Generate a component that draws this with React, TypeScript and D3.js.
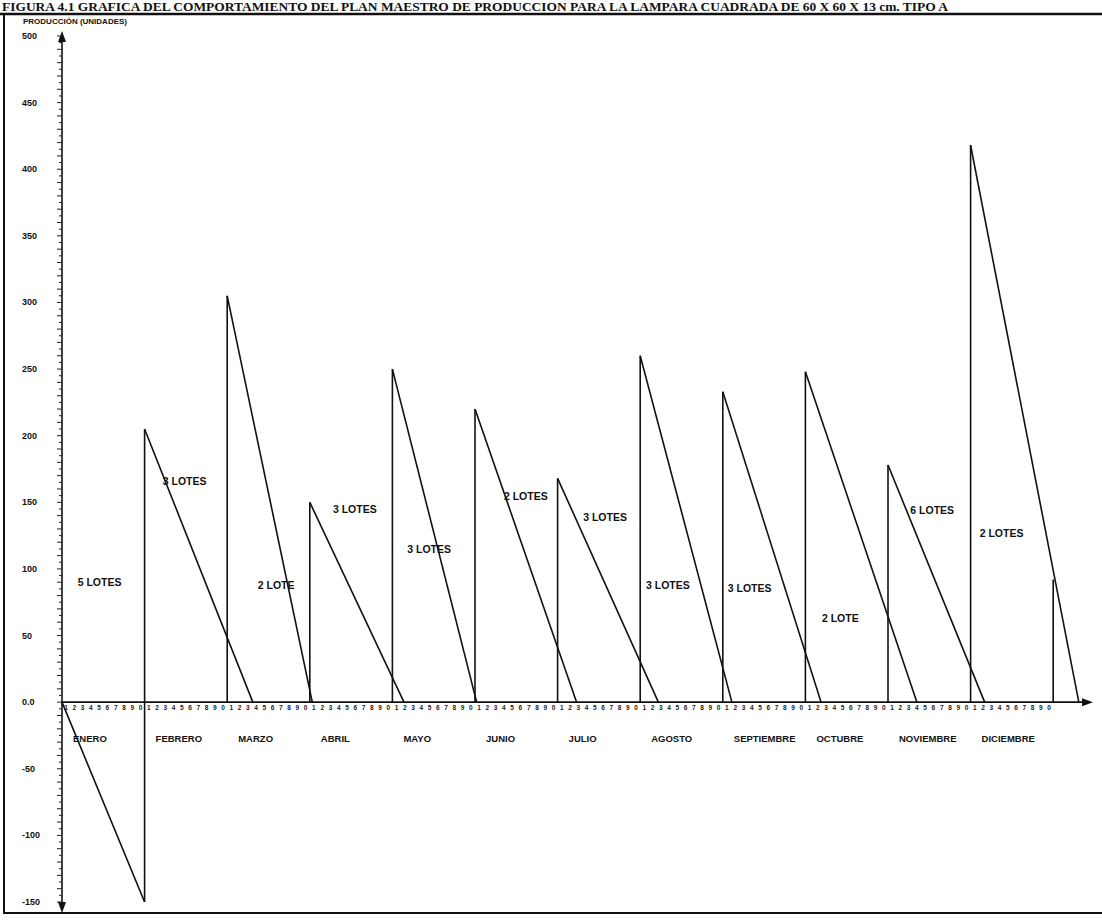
import React from "react";
import * as d3 from "d3";

// ---------- data ----------
const TITLE =
  "FIGURA 4.1  GRAFICA DEL COMPORTAMIENTO DEL PLAN MAESTRO DE PRODUCCION PARA LA LAMPARA CUADRADA DE 60 X 60 X 13 cm.  TIPO A";
const Y_TITLE = "PRODUCCIÓN (UNIDADES)";
const MONTHS = [
  "ENERO", "FEBRERO", "MARZO", "ABRIL", "MAYO", "JUNIO",
  "JULIO", "AGOSTO", "SEPTIEMBRE", "OCTUBRE", "NOVIEMBRE", "DICIEMBRE",
];
const Y_TICKS = [500, 450, 400, 350, 300, 250, 200, 150, 100, 50, 0, -50, -100, -150];
// Enero: stock falls from 0 to this value by the start of Febrero
const ENERO_START = 0;
const ENERO_END = -150;
// level reached at the start of each month 1..12 (Febrero .. next Enero)
const START_LEVEL = [205, 305, 150, 250, 220, 168, 260, 233, 248, 178, 418, 92];
// time (in months) at which each replenishment (Febrero..Diciembre) is used up
const ZERO_AT = [2.31, 3.03, 4.14, 5.02, 6.23, 7.22, 8.11, 9.19, 10.35, 11.17, 12.31];
// lot annotations: text, month position, value
const LOT_TEXT = [
  "5 LOTES", "3 LOTES", "2 LOTE", "3 LOTES", "3 LOTES", "2 LOTES",
  "3 LOTES", "3 LOTES", "3 LOTES", "2 LOTE", "6 LOTES", "2 LOTES",
];
const LOT_AT = [0.19, 1.22, 2.37, 3.28, 4.18, 5.35, 6.31, 7.07, 8.06, 9.2, 10.27, 11.11];
const LOT_VALUE = [90, 166, 88, 145, 115, 155, 139, 88, 86, 63, 144, 127];
const SUB_TICKS = [1, 2, 3, 4, 5, 6, 7, 8, 9, 0];

// ---------- layout ----------
const W = 1102;
const H = 924;
const X0 = 62;
const MONTH_W = 82.6;
const SANS = "'Liberation Sans', Arial, sans-serif";
const SERIF = "'Liberation Serif', 'Times New Roman', serif";

export default function App() {
  const x = d3.scaleLinear().domain([0, 12]).range([X0, X0 + MONTH_W * 12]);
  const y = d3.scaleLinear().domain([-150, 500]).range([902, 36]);
  const y0 = y(0);
  const line = d3.line<[number, number]>().x((d) => x(d[0])).y((d) => y(d[1]));

  const segs: [number, number][][] = [];
  // Enero decline
  segs.push([[0, ENERO_START], [1, ENERO_END]]);
  // Febrero vertical from negative level
  segs.push([[1, ENERO_END], [1, START_LEVEL[0]]]);
  START_LEVEL.forEach((v, i) => {
    const t = i + 1;
    if (i > 0) segs.push([[t, 0], [t, v]]);
    if (i < ZERO_AT.length) segs.push([[t, v], [ZERO_AT[i], 0]]);
  });

  const minor = d3.range(-150, 501, 5);
  const xEnd = 1093;
  const axisTop = 31;
  const axisBot = 913;

  return (
    <svg
      width={W}
      height={H}
      style={{ position: "absolute", left: 0, top: 0, background: "#fff" }}
    >
      <rect x={0} y={0} width={W} height={H} fill="#fff" />
      {/* title */}
      <text
        x={2}
        y={11}
        textLength={946}
        lengthAdjust="spacingAndGlyphs"
        fontFamily={SERIF}
        fontWeight="bold"
        fontSize={13}
        fill="#111"
      >
        {TITLE}
      </text>
      <line x1={0} x2={W} y1={14} y2={14} stroke="#111" strokeWidth={2.5} />
      {/* frame */}
      <line x1={4} x2={4} y1={14} y2={913} stroke="#111" strokeWidth={2} />
      <line x1={3} x2={W} y1={913} y2={913} stroke="#111" strokeWidth={2} />

      {/* y axis title */}
      <text x={23} y={24} fontFamily={SANS} fontWeight="bold" fontSize={8} fill="#111">
        {Y_TITLE}
      </text>

      {/* y axis */}
      <line x1={X0} x2={X0} y1={axisTop + 6} y2={axisBot - 6} stroke="#111" strokeWidth={1.6} />
      <path d={`M${X0},${axisTop} L${X0 - 4},${axisTop + 11} L${X0 + 4},${axisTop + 11} Z`} fill="#111" />
      <path d={`M${X0},${axisBot} L${X0 - 4},${axisBot - 11} L${X0 + 4},${axisBot - 11} Z`} fill="#111" />
      {minor.map((v) => (
        <line
          key={"m" + v}
          x1={X0 - (v % 10 === 0 ? 5 : 3)}
          x2={X0}
          y1={y(v)}
          y2={y(v)}
          stroke="#222"
          strokeWidth={1}
        />
      ))}
      {Y_TICKS.map((v) => (
        <text
          key={"yt" + v}
          x={22}
          y={y(v) + 3}
          fontFamily={SANS}
          fontWeight="bold"
          fontSize={9}
          fill="#111"
        >
          {v === 0 ? "0.0" : String(v)}
        </text>
      ))}

      {/* x axis */}
      <line x1={X0} x2={xEnd - 8} y1={y0} y2={y0} stroke="#111" strokeWidth={1.6} />
      <path d={`M${xEnd},${y0} L${xEnd - 11},${y0 - 4} L${xEnd - 11},${y0 + 4} Z`} fill="#111" />
      {MONTHS.map((m, i) =>
        SUB_TICKS.map((d, j) => (
          <text
            key={`st${i}-${j}`}
            x={x(i + (j + 0.5) / 10)}
            y={y0 + 8}
            textAnchor="middle"
            fontFamily={SANS}
            fontWeight="bold"
            fontSize={6.5}
            fill="#222"
          >
            {d}
          </text>
        ))
      )}
      {MONTHS.map((m, i) => (
        <text
          key={"mo" + m}
          x={x(i) + 11}
          y={y0 + 40}
          fontFamily={SANS}
          fontWeight="bold"
          fontSize={9.5}
          fill="#111"
        >
          {m}
        </text>
      ))}

      {/* inventory lines */}
      {segs.map((s, i) => (
        <path key={"s" + i} d={line(s) || ""} fill="none" stroke="#111" strokeWidth={1.6} />
      ))}

      {/* lot labels */}
      {LOT_TEXT.map((t, i) => (
        <text
          key={"lt" + i}
          x={x(LOT_AT[i])}
          y={y(LOT_VALUE[i]) + 4}
          fontFamily={SANS}
          fontWeight="bold"
          fontSize={10.5}
          fill="#111"
        >
          {t}
        </text>
      ))}
    </svg>
  );
}
